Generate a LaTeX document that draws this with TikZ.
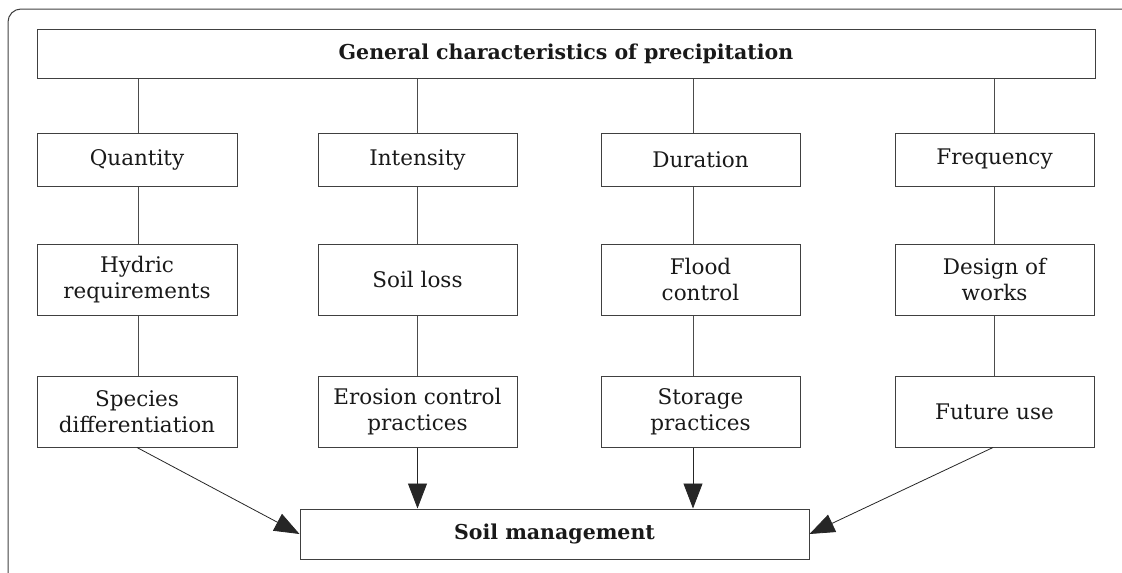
\documentclass[tikz,border=0pt]{standalone}
\usepackage{fontspec}
\setmainfont{DejaVu Serif}
\usetikzlibrary{arrows.meta}
\begin{document}
\begin{tikzpicture}[x=1pt,y=-1pt,
  box/.style={draw=black!75,line width=1pt,rectangle,inner sep=0pt,align=center,
    font=\fontsize{21.5}{26}\selectfont,text=black!90},
  boldbox/.style={box,font=\fontsize{20.5}{26}\selectfont\bfseries},
  link/.style={draw=black!70,line width=1pt},
  arr/.style={draw=black!85,line width=0.8pt,-{Triangle[length=25pt,width=19pt]}}]
\useasboundingbox (0,0) rectangle (1122,573);
\draw[black!75,line width=1pt,rounded corners=13pt] (8,573) -- (8,9) -- (1122,9);
\node[boldbox,minimum width=1058pt,minimum height=49pt] (top) at (566,53.5) {General characteristics of precipitation};
% level 2
\node[box,minimum width=200pt,minimum height=53pt] (q) at (137,159.5) {Quantity};
\node[box,minimum width=199pt,minimum height=53pt] (i) at (417.5,159.5) {Intensity};
\node[box,minimum width=199pt,minimum height=53pt] (d) at (700.5,159.5) {Duration};
\node[box,minimum width=199pt,minimum height=53pt] (f) at (994.5,159.5) {Frequency};
% level 3
\node[box,minimum width=200pt,minimum height=71pt] (hr) at (137,279.5) {Hydric\\requirements};
\node[box,minimum width=199pt,minimum height=71pt] (sl) at (417.5,279.5) {Soil loss};
\node[box,minimum width=199pt,minimum height=71pt] (fc) at (700.5,279.5) {Flood\\control};
\node[box,minimum width=199pt,minimum height=71pt] (dw) at (994.5,279.5) {Design of\\works};
% level 4
\node[box,minimum width=200pt,minimum height=71pt] (sd) at (137,411.5) {Species\\differentiation};
\node[box,minimum width=199pt,minimum height=71pt] (ec) at (417.5,411.5) {Erosion control\\practices};
\node[box,minimum width=199pt,minimum height=71pt] (sp) at (700.5,411.5) {Storage\\practices};
\node[box,minimum width=199pt,minimum height=71pt] (fu) at (994.5,411.5) {Future use};
% bottom
\node[boldbox,minimum width=509pt,minimum height=50pt] (sm) at (554.5,534) {Soil management};
% links
\draw[link] ([xshift=1pt]q.north) -- ([xshift=1pt]q.north |- top.south);
\draw[link] (i.north) -- (i.north |- top.south);
\draw[link] ([xshift=-7.5pt]d.north) -- ([xshift=-7.5pt]d.north |- top.south);
\draw[link] (f.north) -- (f.north |- top.south);
\draw[link] ([xshift=1pt]q.south) -- ([xshift=1pt]hr.north);
\draw[link] (i.south) -- (sl.north);
\draw[link] ([xshift=-7.5pt]d.south) -- ([xshift=-7.5pt]fc.north);
\draw[link] (f.south) -- (dw.north);
\draw[link] ([xshift=1pt]hr.south) -- ([xshift=1pt]sd.north);
\draw[link] (sl.south) -- (ec.north);
\draw[link] ([xshift=-7.5pt]fc.south) -- ([xshift=-7.5pt]sp.north);
\draw[link] (dw.south) -- (fu.north);
% arrows
\draw[arr] (sd.south) -- (sm.west);
\draw[arr] (ec.south) -- (ec.south |- sm.north);
\draw[arr] ([xshift=-7.5pt]sp.south) -- ([xshift=-7.5pt]sp.south |- sm.north);
\draw[arr] ([xshift=-1.5pt]fu.south) -- (sm.east);
\end{tikzpicture}
\end{document}
